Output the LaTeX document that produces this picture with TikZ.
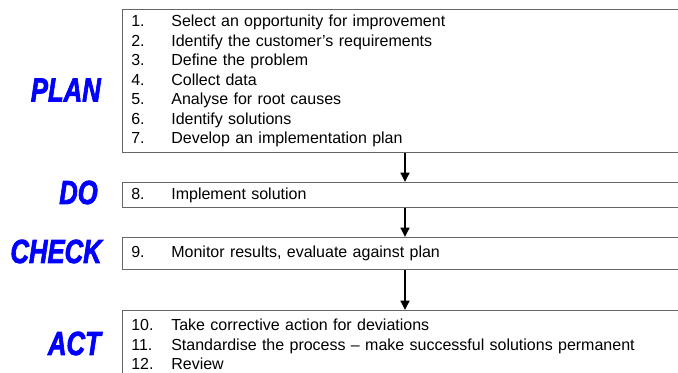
\documentclass[tikz,border=0pt]{standalone}
\usepackage{fontspec}
\setmainfont{Liberation Sans}
\font\phasefont="Liberation Sans/BI:embolden=2.5" at 25pt
\usetikzlibrary{arrows.meta,positioning}

\newcommand{\stepno}[1]{\makebox[30pt][l]{#1}}
\newcommand{\phasename}[1]{\scalebox{0.77}[1]{#1}}

\tikzset{
  stepbox/.style={draw=black!60, line width=0.8pt, anchor=north west,
    inner xsep=6.6pt, inner ysep=0pt, text width=413pt, align=left,
    font=\fontsize{12}{14.6}\selectfont},
  phase/.style={text=blue, anchor=east, inner sep=0pt, font=\phasefont},
  flow/.style={-{Triangle[length=7pt,width=6.5pt]}, line width=1.7pt}
}

\begin{document}
\begin{tikzpicture}[x=0.75pt, y=-0.75pt]
\fill[white] (0,0) rectangle (678,372);
\useasboundingbox (0,0) rectangle (678,372);
\clip (0,0) rectangle (678,372);

% the four phases
\node[phase] (planlabel) at (101,90) {\phasename{PLAN}};
\node[phase] (dolabel) at (98,192.5) {\phasename{DO}};
\node[phase] (checklabel) at (102,251.5) {\phasename{CHECK}};
\node[phase] (actlabel) at (101,343.5) {\phasename{ACT}};

% the steps
\node[stepbox, minimum height=107.25pt] (plan) at (122,9) {%
  \stepno{1.}Select an opportunity for improvement\\
  \stepno{2.}Identify the customer’s requirements\\
  \stepno{3.}Define the problem\\
  \stepno{4.}Collect data\\
  \stepno{5.}Analyse for root causes\\
  \stepno{6.}Identify solutions\\
  \stepno{7.}Develop an implementation plan};
\node[stepbox, minimum height=18.75pt] (do) at (122,182) {%
  \stepno{8.}Implement solution};
\node[stepbox, minimum height=24pt] (check) at (122,237) {%
  \stepno{9.}Monitor results, evaluate against plan};
\node[stepbox, minimum height=51pt] (act) at (122,310) {%
  \stepno{10.}Take corrective action for deviations\\
  \stepno{11.}Standardise the process -- make successful solutions permanent\\
  \stepno{12.}Review};

% arrows between boxes
\draw[flow] ([xshift=212.25pt]plan.south west) -- ([xshift=212.25pt]do.north west);
\draw[flow] ([xshift=212.25pt]do.south west) -- ([xshift=212.25pt]check.north west);
\draw[flow] ([xshift=212.25pt]check.south west) -- ([xshift=212.25pt]act.north west);
\end{tikzpicture}
\end{document}
